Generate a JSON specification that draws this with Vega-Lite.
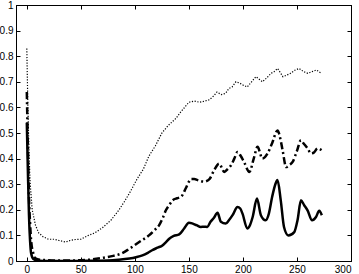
{
  "$schema": "https://vega.github.io/schema/vega-lite/v6.json",
  "width": 335,
  "height": 256,
  "autosize": {"type": "none"},
  "padding": {"left": 16, "top": 5, "right": 8, "bottom": 13},
  "background": "white",
  "config": {
    "view": {"stroke": "black", "strokeWidth": 1},
    "axis": {
      "grid": false,
      "domainColor": "black",
      "tickColor": "black",
      "labelColor": "black",
      "labelFont": "Liberation Sans",
      "labelFontSize": 10,
      "tickSize": -4,
      "labelPadding": 7,
      "title": null
    }
  },
  "data": {
    "values": [
      {"s": "dotted", "x": 0, "y": 0.83}, {"s": "dotted", "x": 1, "y": 0.6}, {"s": "dotted", "x": 2, "y": 0.43}, {"s": "dotted", "x": 3, "y": 0.31}, {"s": "dotted", "x": 5, "y": 0.2}, {"s": "dotted", "x": 8, "y": 0.14}, {"s": "dotted", "x": 11, "y": 0.11}, {"s": "dotted", "x": 15, "y": 0.095}, {"s": "dotted", "x": 20, "y": 0.085}, {"s": "dotted", "x": 25, "y": 0.085}, {"s": "dotted", "x": 30, "y": 0.08}, {"s": "dotted", "x": 36, "y": 0.074}, {"s": "dotted", "x": 40, "y": 0.08}, {"s": "dotted", "x": 45, "y": 0.084}, {"s": "dotted", "x": 50, "y": 0.085}, {"s": "dotted", "x": 57, "y": 0.1}, {"s": "dotted", "x": 63, "y": 0.11}, {"s": "dotted", "x": 70, "y": 0.13}, {"s": "dotted", "x": 78, "y": 0.16}, {"s": "dotted", "x": 85, "y": 0.198}, {"s": "dotted", "x": 90, "y": 0.23}, {"s": "dotted", "x": 95, "y": 0.265}, {"s": "dotted", "x": 102, "y": 0.32}, {"s": "dotted", "x": 108, "y": 0.36}, {"s": "dotted", "x": 113, "y": 0.41}, {"s": "dotted", "x": 119, "y": 0.45}, {"s": "dotted", "x": 125, "y": 0.5}, {"s": "dotted", "x": 131, "y": 0.53}, {"s": "dotted", "x": 138, "y": 0.557}, {"s": "dotted", "x": 142, "y": 0.58}, {"s": "dotted", "x": 146, "y": 0.6}, {"s": "dotted", "x": 150, "y": 0.62}, {"s": "dotted", "x": 155, "y": 0.625}, {"s": "dotted", "x": 160, "y": 0.62}, {"s": "dotted", "x": 165, "y": 0.625}, {"s": "dotted", "x": 169, "y": 0.63}, {"s": "dotted", "x": 173, "y": 0.645}, {"s": "dotted", "x": 176, "y": 0.66}, {"s": "dotted", "x": 180, "y": 0.65}, {"s": "dotted", "x": 184, "y": 0.655}, {"s": "dotted", "x": 187, "y": 0.674}, {"s": "dotted", "x": 190, "y": 0.68}, {"s": "dotted", "x": 193.5, "y": 0.7}, {"s": "dotted", "x": 197, "y": 0.695}, {"s": "dotted", "x": 201, "y": 0.685}, {"s": "dotted", "x": 204, "y": 0.68}, {"s": "dotted", "x": 208, "y": 0.7}, {"s": "dotted", "x": 212, "y": 0.72}, {"s": "dotted", "x": 215, "y": 0.71}, {"s": "dotted", "x": 218, "y": 0.7}, {"s": "dotted", "x": 222, "y": 0.715}, {"s": "dotted", "x": 226, "y": 0.733}, {"s": "dotted", "x": 229, "y": 0.74}, {"s": "dotted", "x": 232, "y": 0.752}, {"s": "dotted", "x": 234, "y": 0.74}, {"s": "dotted", "x": 237, "y": 0.72}, {"s": "dotted", "x": 240, "y": 0.725}, {"s": "dotted", "x": 244, "y": 0.733}, {"s": "dotted", "x": 248, "y": 0.745}, {"s": "dotted", "x": 252, "y": 0.752}, {"s": "dotted", "x": 256, "y": 0.74}, {"s": "dotted", "x": 260, "y": 0.733}, {"s": "dotted", "x": 264, "y": 0.74}, {"s": "dotted", "x": 268, "y": 0.746}, {"s": "dotted", "x": 272, "y": 0.735},

      {"s": "dashdot", "x": 0, "y": 0.66}, {"s": "dashdot", "x": 1, "y": 0.45}, {"s": "dashdot", "x": 2, "y": 0.25}, {"s": "dashdot", "x": 3, "y": 0.15}, {"s": "dashdot", "x": 4, "y": 0.08}, {"s": "dashdot", "x": 6, "y": 0.03}, {"s": "dashdot", "x": 8, "y": 0.01}, {"s": "dashdot", "x": 12, "y": 0.005}, {"s": "dashdot", "x": 20, "y": 0.003}, {"s": "dashdot", "x": 30, "y": 0.002}, {"s": "dashdot", "x": 40, "y": 0.002}, {"s": "dashdot", "x": 50, "y": 0.003}, {"s": "dashdot", "x": 60, "y": 0.006}, {"s": "dashdot", "x": 70, "y": 0.012}, {"s": "dashdot", "x": 80, "y": 0.02}, {"s": "dashdot", "x": 88, "y": 0.03}, {"s": "dashdot", "x": 95, "y": 0.048}, {"s": "dashdot", "x": 104, "y": 0.074}, {"s": "dashdot", "x": 113, "y": 0.1}, {"s": "dashdot", "x": 118, "y": 0.12}, {"s": "dashdot", "x": 122.5, "y": 0.14}, {"s": "dashdot", "x": 126, "y": 0.17}, {"s": "dashdot", "x": 128.7, "y": 0.198}, {"s": "dashdot", "x": 132, "y": 0.22}, {"s": "dashdot", "x": 135, "y": 0.237}, {"s": "dashdot", "x": 139, "y": 0.245}, {"s": "dashdot", "x": 142.6, "y": 0.25}, {"s": "dashdot", "x": 147, "y": 0.283}, {"s": "dashdot", "x": 150, "y": 0.31}, {"s": "dashdot", "x": 152, "y": 0.32}, {"s": "dashdot", "x": 155, "y": 0.32}, {"s": "dashdot", "x": 158, "y": 0.316}, {"s": "dashdot", "x": 164, "y": 0.31}, {"s": "dashdot", "x": 169, "y": 0.32}, {"s": "dashdot", "x": 173.4, "y": 0.355}, {"s": "dashdot", "x": 178, "y": 0.38}, {"s": "dashdot", "x": 182.7, "y": 0.348}, {"s": "dashdot", "x": 186, "y": 0.36}, {"s": "dashdot", "x": 189, "y": 0.374}, {"s": "dashdot", "x": 192, "y": 0.4}, {"s": "dashdot", "x": 195, "y": 0.426}, {"s": "dashdot", "x": 198, "y": 0.41}, {"s": "dashdot", "x": 201, "y": 0.387}, {"s": "dashdot", "x": 206, "y": 0.348}, {"s": "dashdot", "x": 210, "y": 0.4}, {"s": "dashdot", "x": 213.5, "y": 0.446}, {"s": "dashdot", "x": 218, "y": 0.4}, {"s": "dashdot", "x": 222.8, "y": 0.42}, {"s": "dashdot", "x": 227, "y": 0.46}, {"s": "dashdot", "x": 232, "y": 0.51}, {"s": "dashdot", "x": 235, "y": 0.47}, {"s": "dashdot", "x": 236.7, "y": 0.433}, {"s": "dashdot", "x": 240, "y": 0.367}, {"s": "dashdot", "x": 243, "y": 0.375}, {"s": "dashdot", "x": 246, "y": 0.387}, {"s": "dashdot", "x": 250, "y": 0.43}, {"s": "dashdot", "x": 253.7, "y": 0.472}, {"s": "dashdot", "x": 256, "y": 0.46}, {"s": "dashdot", "x": 259.8, "y": 0.44}, {"s": "dashdot", "x": 263, "y": 0.42}, {"s": "dashdot", "x": 266, "y": 0.425}, {"s": "dashdot", "x": 269, "y": 0.44}, {"s": "dashdot", "x": 273, "y": 0.433},

      {"s": "solid", "x": 0, "y": 0.54}, {"s": "solid", "x": 1, "y": 0.35}, {"s": "solid", "x": 2, "y": 0.18}, {"s": "solid", "x": 3, "y": 0.08}, {"s": "solid", "x": 4, "y": 0.03}, {"s": "solid", "x": 6, "y": 0.008}, {"s": "solid", "x": 10, "y": 0.002}, {"s": "solid", "x": 20, "y": 0}, {"s": "solid", "x": 40, "y": 0}, {"s": "solid", "x": 60, "y": 0.001}, {"s": "solid", "x": 75, "y": 0.002}, {"s": "solid", "x": 85, "y": 0.005}, {"s": "solid", "x": 95, "y": 0.01}, {"s": "solid", "x": 101, "y": 0.015}, {"s": "solid", "x": 107, "y": 0.022}, {"s": "solid", "x": 112, "y": 0.032}, {"s": "solid", "x": 116, "y": 0.042}, {"s": "solid", "x": 121, "y": 0.052}, {"s": "solid", "x": 125.5, "y": 0.061}, {"s": "solid", "x": 129, "y": 0.075}, {"s": "solid", "x": 131.8, "y": 0.087}, {"s": "solid", "x": 136, "y": 0.098}, {"s": "solid", "x": 141, "y": 0.104}, {"s": "solid", "x": 145.6, "y": 0.127}, {"s": "solid", "x": 150, "y": 0.149}, {"s": "solid", "x": 153, "y": 0.147}, {"s": "solid", "x": 157, "y": 0.14}, {"s": "solid", "x": 161, "y": 0.133}, {"s": "solid", "x": 164, "y": 0.134}, {"s": "solid", "x": 167, "y": 0.133}, {"s": "solid", "x": 170, "y": 0.153}, {"s": "solid", "x": 173, "y": 0.168}, {"s": "solid", "x": 176.5, "y": 0.188}, {"s": "solid", "x": 179.6, "y": 0.153}, {"s": "solid", "x": 184, "y": 0.146}, {"s": "solid", "x": 187, "y": 0.159}, {"s": "solid", "x": 190.4, "y": 0.179}, {"s": "solid", "x": 195, "y": 0.211}, {"s": "solid", "x": 197.5, "y": 0.205}, {"s": "solid", "x": 199.6, "y": 0.185}, {"s": "solid", "x": 204, "y": 0.127}, {"s": "solid", "x": 206.5, "y": 0.14}, {"s": "solid", "x": 209, "y": 0.172}, {"s": "solid", "x": 213, "y": 0.244}, {"s": "solid", "x": 216.6, "y": 0.179}, {"s": "solid", "x": 221, "y": 0.159}, {"s": "solid", "x": 224, "y": 0.185}, {"s": "solid", "x": 227, "y": 0.25}, {"s": "solid", "x": 230, "y": 0.3}, {"s": "solid", "x": 232, "y": 0.316}, {"s": "solid", "x": 235, "y": 0.237}, {"s": "solid", "x": 238, "y": 0.133}, {"s": "solid", "x": 242, "y": 0.1}, {"s": "solid", "x": 247.5, "y": 0.113}, {"s": "solid", "x": 250.5, "y": 0.159}, {"s": "solid", "x": 253.7, "y": 0.237}, {"s": "solid", "x": 256.7, "y": 0.218}, {"s": "solid", "x": 259.8, "y": 0.198}, {"s": "solid", "x": 264, "y": 0.159}, {"s": "solid", "x": 267.6, "y": 0.172}, {"s": "solid", "x": 270.6, "y": 0.196}, {"s": "solid", "x": 273, "y": 0.179}
    ]
  },
  "layer": [
    {
      "transform": [{"filter": "datum.s === 'dotted'"}],
      "mark": {"type": "line", "color": "black", "strokeWidth": 1.2, "strokeDash": [1.2, 1.6], "clip": true},
      "encoding": {
        "x": {"field": "x", "type": "quantitative", "scale": {"domain": [-10, 300], "nice": false, "zero": false},
              "axis": {"orient": "bottom", "values": [0, 50, 100, 150, 200, 250, 300]}},
        "y": {"field": "y", "type": "quantitative", "scale": {"domain": [0, 1], "nice": false},
              "axis": {"orient": "left", "values": [0, 0.1, 0.2, 0.3, 0.4, 0.5, 0.6, 0.7, 0.8, 0.9, 1], "format": "~g"}}
      }
    },
    {
      "transform": [{"filter": "datum.s === 'dashdot'"}],
      "mark": {"type": "line", "color": "black", "strokeWidth": 2.5, "strokeDash": [7, 3, 2, 3], "interpolate": "monotone", "clip": true},
      "encoding": {
        "x": {"field": "x", "type": "quantitative", "axis": null},
        "y": {"field": "y", "type": "quantitative", "axis": null}
      }
    },
    {
      "transform": [{"filter": "datum.s === 'solid'"}],
      "mark": {"type": "line", "color": "black", "strokeWidth": 2.5, "interpolate": "monotone", "clip": true},
      "encoding": {
        "x": {"field": "x", "type": "quantitative", "axis": null},
        "y": {"field": "y", "type": "quantitative", "axis": null}
      }
    },
    {
      "transform": [{"filter": "datum.s === 'solid'"}],
      "mark": {"type": "line", "opacity": 0, "clip": true},
      "encoding": {
        "x": {"field": "x", "type": "quantitative",
              "axis": {"orient": "top", "labels": false, "values": [0, 50, 100, 150, 200, 250, 300]}},
        "y": {"field": "y", "type": "quantitative",
              "axis": {"orient": "right", "labels": false, "values": [0, 0.1, 0.2, 0.3, 0.4, 0.5, 0.6, 0.7, 0.8, 0.9, 1]}}
      }
    }
  ],
  "resolve": {"axis": {"x": "independent", "y": "independent"}}
}
